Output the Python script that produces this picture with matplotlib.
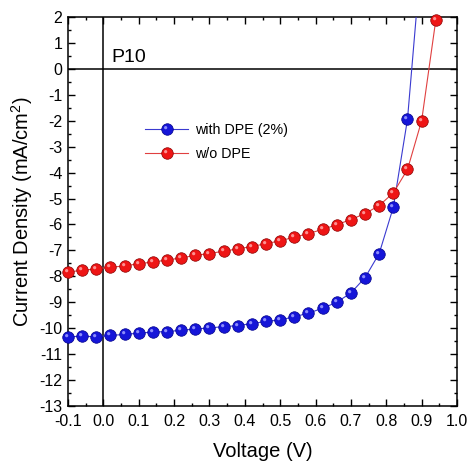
import numpy as np
import matplotlib
matplotlib.use("Agg")
import matplotlib.pyplot as plt
from matplotlib.path import Path
from matplotlib.lines import Line2D
from matplotlib.legend_handler import HandlerTuple
from matplotlib.ticker import MultipleLocator, FormatStrFormatter

plt.rcParams['font.family'] = ['Liberation Sans', 'DejaVu Sans']
plt.rcParams['axes.unicode_minus'] = False
plt.rcParams['mathtext.fontset'] = 'custom'
plt.rcParams['mathtext.rm'] = 'Liberation Sans'
plt.rcParams['mathtext.it'] = 'Liberation Sans:italic'
plt.rcParams['mathtext.bf'] = 'Liberation Sans:bold'

# ---- data ----
voltage = [-0.10, -0.06, -0.02, 0.02, 0.06, 0.10, 0.14, 0.18, 0.22, 0.26, 0.30,
           0.34, 0.38, 0.42, 0.46, 0.50, 0.54, 0.58, 0.62, 0.66, 0.70, 0.74,
           0.78, 0.82, 0.86, 0.90, 0.94]
j_with_dpe = [-10.33, -10.31, -10.33, -10.28, -10.24, -10.19, -10.15, -10.13,
              -10.08, -10.03, -9.99, -9.94, -9.90, -9.82, -9.74, -9.68, -9.56,
              -9.42, -9.23, -9.00, -8.64, -8.05, -7.12, -5.33, -1.94, 4.50, np.nan]
j_wo_dpe = [-7.83, -7.77, -7.71, -7.65, -7.60, -7.51, -7.45, -7.37, -7.29,
            -7.19, -7.12, -7.03, -6.94, -6.85, -6.74, -6.63, -6.49, -6.35,
            -6.19, -6.01, -5.81, -5.58, -5.27, -4.78, -3.88, -2.00, 1.88]
labels = ["with DPE (2%)", "w/o DPE"]
x_ticks = [-0.1, 0.0, 0.1, 0.2, 0.3, 0.4, 0.5, 0.6, 0.7, 0.8, 0.9, 1.0]
y_ticks = list(range(-13, 3))

fig = plt.figure(figsize=(4.69, 4.62), dpi=100)
ax = fig.add_axes([68/469, 1 - 406/462, 389/469, 389/462])

# highlight marker path (small offset dot, scaled same as main circle)
circ = Path.circle(center=(-0.32, 0.32), radius=0.28)
hl_verts = np.vstack([circ.vertices, [[1, 1], [-1, -1]]])
hl_codes = np.concatenate([circ.codes, [Path.MOVETO, Path.MOVETO]])
hl_path = Path(hl_verts, hl_codes)

ms = 8.3
series = [
    (j_with_dpe, '#3a3ad0', '#1515d8', '#00008a', '#9a9aff'),
    (j_wo_dpe, '#e04040', '#ee1515', '#8a0000', '#ffa0a0'),
]
handles = []
V = np.array(voltage)
for (vals, lc, fc, ec, hc), lab in zip(series, labels):
    y = np.array(vals, dtype=float)
    ax.plot(V, y, '-', color=lc, lw=0.8, zorder=3)
    vis = y <= 2.0
    ax.plot(V[vis], y[vis], 'o', ms=ms, mfc=fc, mec=ec, mew=0.5,
            zorder=4, clip_on=False)
    ax.plot(V[vis], y[vis], ls='none', marker=hl_path, ms=ms, mfc=hc,
            mec='none', alpha=0.9, zorder=5, clip_on=False)
    l = Line2D([], [], color=lc, lw=0.8)
    mm1 = Line2D([], [], ls='none', marker='o', ms=ms, mfc=fc, mec=ec, mew=0.5)
    mm2 = Line2D([], [], ls='none', marker=hl_path, ms=ms, mfc=hc, mec='none', alpha=0.9)
    handles.append((l, mm1, mm2))

ax.axhline(0, color='black', lw=1.1, zorder=2)
ax.axvline(0, color='black', lw=1.1, zorder=2)

ax.set_xlim(-0.1, 1.0)
ax.set_ylim(-13, 2)
ax.set_xticks(x_ticks)
ax.set_yticks(y_ticks)
ax.xaxis.set_major_formatter(FormatStrFormatter('%.1f'))
ax.xaxis.set_minor_locator(MultipleLocator(0.05))
ax.yaxis.set_minor_locator(MultipleLocator(0.5))
ax.tick_params(which='both', direction='in', top=True, right=True,
               labelsize=11.5, width=1.0)
ax.tick_params(axis='x', which='both', pad=6)
ax.tick_params(axis='y', which='both', pad=4)
ax.tick_params(which='major', length=5)
ax.tick_params(which='minor', length=2.5)
for s in ax.spines.values():
    s.set_linewidth(1.1)

ax.set_xlabel('Voltage (V)', fontsize=14.5, labelpad=9)
ax.set_ylabel('Current Density (mA/cm$^2$)', fontsize=14.5, labelpad=3)

ax.text(0.024, 0.27, 'P10', fontsize=14, ha='left', va='baseline')

ax.legend(handles, labels, handler_map={tuple: HandlerTuple(ndivide=1)},
          loc='upper left', bbox_to_anchor=(0.165, 0.76), frameon=False,
          fontsize=10.3, handlelength=3.0, handletextpad=0.5, labelspacing=0.65)

fig.savefig('out.png', dpi=100)
